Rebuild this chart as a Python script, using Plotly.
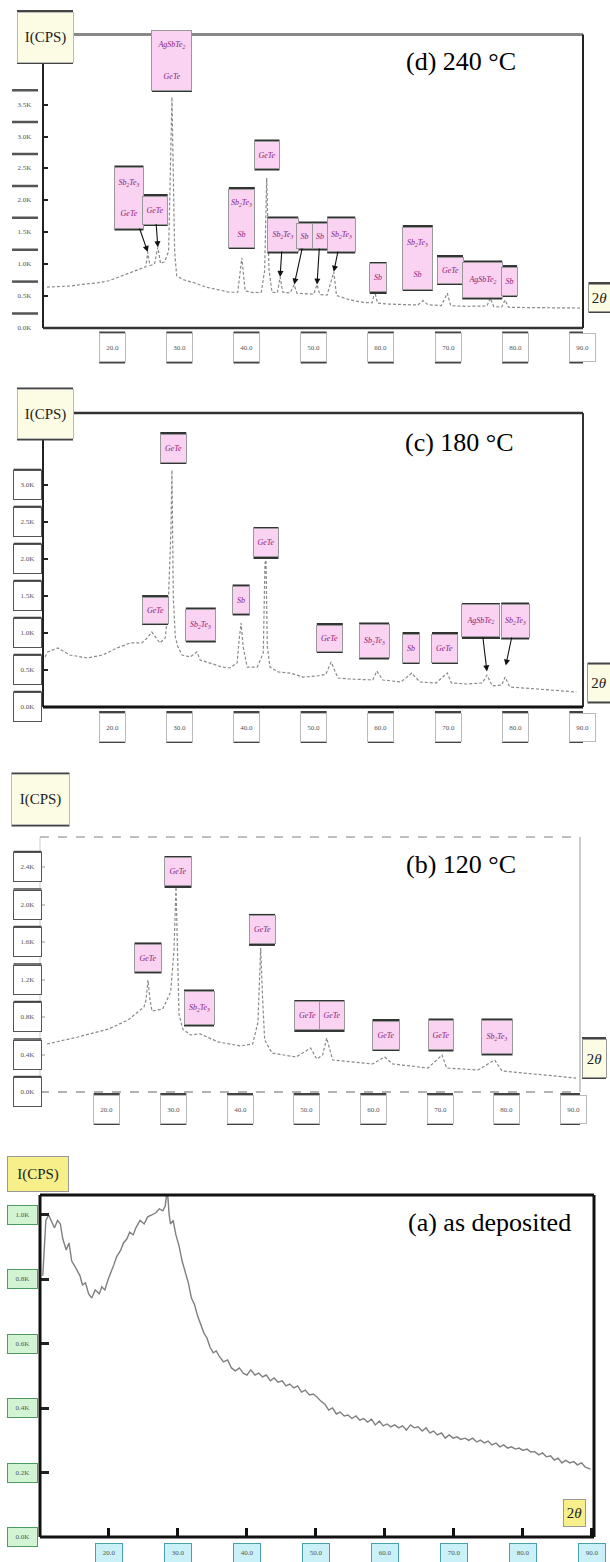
import plotly.graph_objects as go

W, H = 610, 1562

# ---------------- diffraction patterns: 2θ (deg) vs intensity (counts/s) ----------------
# (d) annealed at 240 °C
two_theta_d = [10.3, 12.0, 14.0, 16.0, 17.7, 19.5, 21.0, 22.4, 24.0, 25.0,
               25.3, 25.6, 26.3, 26.8, 27.2, 27.8, 28.4, 28.9, 29.3, 29.6,
               30.5, 32.3, 34.0, 35.8, 37.5, 38.7, 39.3, 39.8, 41.0, 42.2,
               42.7, 43.0, 43.35, 43.8, 44.6, 45.0, 45.4, 46.5, 47.1, 47.5,
               48.4, 50.0, 50.5, 50.9, 52.0, 53.0, 53.4, 55.4, 57.5, 58.7,
               59.1, 59.5, 61.2, 64.0, 65.5, 66.3, 67.0, 69.0, 69.9, 70.4,
               72.5, 75.8, 76.3, 76.8, 78.0, 78.5, 79.0, 82.0, 85.0, 89.7]
intensity_d = [640, 645, 660, 690, 705, 740, 800, 862, 920, 960,
               1190, 980, 1000, 1265, 1010, 1040, 1200, 3620, 1200, 820,
               760, 705, 640, 595, 560, 560, 1100, 580, 555, 560,
               900, 2350, 910, 560, 555, 800, 560, 550, 680, 545,
               540, 530, 680, 525, 515, 880, 510, 440, 400, 395,
               570, 390, 375, 360, 360, 430, 365, 350, 545, 350,
               340, 345, 470, 335, 330, 440, 325, 320, 315, 313]

# (c) annealed at 180 °C
two_theta_c = [10.0, 10.4, 11.9, 13.7, 16.3, 18.6, 20.7, 22.7, 24.4, 25.2,
               25.9, 26.4, 27.1, 27.9, 28.3, 28.75, 28.9, 29.1, 29.4, 29.8,
               30.4, 31.6, 32.6, 33.1, 34.6, 36.4, 37.5, 38.6, 38.9, 39.2,
               39.5, 40.1, 41.6, 42.5, 42.75, 42.9, 43.1, 43.5, 44.7, 46.5,
               48.4, 50.5, 51.8, 52.6, 53.6, 55.4, 58.8, 59.4, 60.3, 63.0,
               64.6, 65.8, 68.2, 69.9, 70.5, 72.8, 75.1, 75.8, 76.6, 78.0,
               78.5, 79.2, 83.3, 86.7, 89.1]
intensity_c = [676, 743, 797, 703, 662, 703, 797, 865, 865, 932,
               1013, 946, 865, 932, 1270, 2391, 3202, 1486, 946, 811,
               703, 676, 743, 635, 594, 540, 527, 594, 905, 1135,
               811, 540, 540, 730, 1945, 1986, 811, 540, 473, 459,
               405, 419, 440, 608, 392, 378, 365, 486, 365, 338,
               459, 338, 324, 459, 324, 311, 324, 432, 284, 297,
               405, 270, 243, 216, 203]

# (b) annealed at 120 °C
two_theta_b = [11.05, 15.7, 20.3, 23.2, 25.6, 25.9, 26.2, 26.5, 26.8, 28.4,
               29.6, 30.1, 30.4, 30.7, 30.85, 31.4, 32.6, 34.0, 36.7, 40.1,
               41.9, 42.7, 43.1, 43.4, 43.7, 44.8, 48.4, 50.6, 51.5, 52.4,
               53.0, 53.9, 56.5, 59.9, 61.7, 62.9, 68.2, 70.3, 71.0, 75.7,
               78.2, 79.3, 85.7, 90.4]
intensity_b = [512, 587, 672, 768, 907, 982, 1195, 982, 864, 886,
               1067, 1515, 2187, 1408, 832, 672, 608, 620, 534, 491,
               512, 747, 1536, 982, 555, 416, 373, 469, 352, 395,
               576, 341, 320, 299, 373, 299, 256, 395, 256, 235,
               341, 224, 181, 149]

# (a) as deposited (amorphous)
two_theta_a = [10.4, 10.85, 11.25, 11.65, 12.1, 12.55, 12.95, 13.3, 13.8, 14.2,
               14.6, 15.2, 15.8, 16.15, 16.6, 17.05, 17.5, 18.0, 18.6, 18.95,
               19.4, 19.9, 20.35, 20.7, 21.1, 21.7, 22.1, 22.6, 23.0, 23.5,
               23.9, 24.5, 25.1, 25.6, 26.2, 26.75, 27.3, 27.8, 28.15, 28.45,
               28.7, 28.9, 29.3, 29.7, 30.15, 30.6, 31.05, 31.5, 31.95, 32.4,
               32.85, 33.3, 33.75, 34.2, 34.65, 35.1, 35.55, 36.05, 36.6, 37.2,
               37.75, 38.3, 38.9, 39.45, 40.0, 40.55, 41.15, 41.7, 42.25, 42.8,
               43.4, 43.95, 44.5, 45.1, 45.65, 46.2, 46.8, 47.35, 47.9, 48.45,
               49.05, 49.6, 50.15, 50.7, 51.3, 51.85, 52.4, 52.95, 53.5, 54.1,
               54.65, 55.2, 55.8, 56.35, 56.9, 57.5, 58.05, 58.6, 59.2, 59.75,
               60.3, 60.85, 61.4, 62.0, 62.55, 63.1, 63.7, 64.25, 64.8, 65.4,
               65.95, 66.5, 67.05, 67.6, 68.2, 68.75, 69.3, 69.9, 70.45, 71.0,
               71.6, 72.15, 72.7, 73.3, 73.85, 74.4, 74.95, 75.5, 76.1, 76.65,
               77.2, 77.8, 78.35, 78.9, 79.45, 80.0, 80.6, 81.15, 81.7, 82.3,
               82.85, 83.4, 84.0, 84.55, 85.1, 85.65, 86.2, 86.8, 87.35, 87.9,
               88.5, 89.05, 89.8]
intensity_a = [811, 983, 1000, 983, 960, 983, 972, 926, 891, 913,
               857, 835, 811, 783, 789, 755, 742, 767, 755, 777,
               767, 801, 823, 845, 870, 891, 913, 926, 947, 938,
               960, 983, 972, 994, 1000, 1006, 1019, 1013, 1028, 1081,
               1006, 972, 983, 938, 904, 857, 823, 789, 742, 721,
               686, 662, 634, 618, 589, 572, 578, 559, 544, 550,
               525, 516, 525, 509, 503, 519, 503, 509, 497, 503,
               485, 494, 481, 485, 469, 475, 463, 469, 450, 456,
               441, 444, 435, 422, 412, 394, 401, 382, 388, 376,
               379, 368, 376, 363, 368, 357, 366, 348, 360, 345,
               351, 342, 348, 339, 345, 332, 348, 339, 342, 329,
               339, 323, 329, 317, 323, 307, 317, 307, 311, 303,
               307, 300, 307, 295, 301, 292, 298, 286, 292, 280,
               286, 276, 280, 273, 276, 269, 273, 264, 265, 255,
               261, 249, 252, 239, 245, 230, 238, 230, 234, 224,
               230, 217, 211]

# ---------------- ticks ----------------
x_tick_vals = [20, 30, 40, 50, 60, 70, 80, 90]
x_tick_text = ["20.0", "30.0", "40.0", "50.0", "60.0", "70.0", "80.0", "90.0"]
y_tick_vals_d = [0, 500, 1000, 1500, 2000, 2500, 3000, 3500]
y_tick_text_d = ["0.0K", "0.5K", "1.0K", "1.5K", "2.0K", "2.5K", "3.0K", "3.5K"]
y_tick_vals_c = [0, 500, 1000, 1500, 2000, 2500, 3000]
y_tick_text_c = ["0.0K", "0.5K", "1.0K", "1.5K", "2.0K", "2.5K", "3.0K"]
y_tick_vals_b = [0, 400, 800, 1200, 1600, 2000, 2400]
y_tick_text_b = ["0.0K", "0.4K", "0.8K", "1.2K", "1.6K", "2.0K", "2.4K"]
y_tick_vals_a = [0, 200, 400, 600, 800, 1000]
y_tick_text_a = ["0.0K", "0.2K", "0.4K", "0.6K", "0.8K", "1.0K"]

# ---------------- phase identification labels ----------------
SB2TE3 = "Sb<sub>2</sub>Te<sub>3</sub>"
AGSBTE2 = "AgSbTe<sub>2</sub>"
GAP = "<br><br><br>"
phases_d = [SB2TE3 + GAP + "GeTe", "GeTe", AGSBTE2 + GAP + "GeTe", SB2TE3 + GAP + "Sb",
            "GeTe", SB2TE3, "Sb", "Sb", SB2TE3, "Sb", SB2TE3 + GAP + "Sb", "GeTe", AGSBTE2, "Sb"]
phases_c = ["GeTe", "GeTe", SB2TE3, "Sb", "GeTe", "GeTe", SB2TE3, "Sb", "GeTe", AGSBTE2, SB2TE3]
phases_b = ["GeTe", "GeTe", SB2TE3, "GeTe", "GeTe", "GeTe", "GeTe", "GeTe", SB2TE3]
titles = {"d": "(d) 240 °C", "c": "(c) 180 °C", "b": "(b) 120 °C", "a": "(a) as deposited"}

# label placement: box centre (2θ, counts), box size (px), arrow tip (2θ, counts) or None
place_d = [(22.5, 2037, 28, 60, (25.3, 1190)), (26.4, 1849, 24, 27, (26.8, 1265)),
           (28.9, 4200, 39, 59, None), (39.3, 1724, 25, 57, None), (43.05, 2711, 24, 26, None),
           (45.4, 1457, 30, 32, (45.0, 800)), (48.7, 1442, 15, 24, (47.1, 680)),
           (50.95, 1442, 14, 24, (50.5, 680)), (54.1, 1457, 27, 32, (53.0, 880)),
           (59.6, 784, 16, 27, None), (65.5, 1097, 29, 61, None), (70.3, 909, 25, 25, None),
           (75.1, 752, 39, 34, None), (79.1, 736, 15, 27, None)]
place_c = [(26.4, 1310, 25, 25, None), (29.1, 3499, 25, 27, None), (33.2, 1108, 29, 30, None),
           (39.2, 1446, 16, 26, None), (42.9, 2216, 24, 27, None), (52.4, 932, 25, 25, None),
           (59.0, 892, 29, 32, None), (64.5, 797, 16, 27, None), (69.55, 797, 25, 27, None),
           (74.9, 1162, 37, 31, (75.8, 480)), (80.0, 1162, 27, 32, (78.6, 560))]
place_b = [(26.2, 1430, 26, 26, None), (30.7, 2347, 26, 27, None), (33.85, 896, 29, 32, None),
           (43.3, 1729, 25, 27, None), (50.1, 811, 25, 27, None), (53.8, 811, 24, 27, None),
           (61.9, 608, 26, 27, None), (70.15, 608, 24, 28, None), (78.55, 587, 30, 32, None)]

# ---------------- panel geometry (pixels on the page) ----------------
panels = [
    dict(key="d", n="", px=(43, 583), py=(34.5, 328), xr=(9.7, 90.1), yr=(0, 4600),
         x=two_theta_d, y=intensity_d, yt=(y_tick_vals_d, y_tick_text_d), labels=(phases_d, place_d),
         cps=(45, 37, 55, 49), theta=(599.5, 297.5, 21, 26), title=(461, 61),
         xtag_y=347.5, ytag_x=25,
         edges=dict(left=("#222", 2, "solid"), top=("#888", 3, "solid"),
                    right=("#222", 2, "solid"), bottom=("#333", 2.5, "solid"))),
    dict(key="c", n="2", px=(43, 583), py=(413, 707), xr=(9.7, 90.1), yr=(0, 3972),
         x=two_theta_c, y=intensity_c, yt=(y_tick_vals_c, y_tick_text_c), labels=(phases_c, place_c),
         cps=(45, 414, 55, 48), theta=(599, 683, 22, 36), title=(460, 443),
         xtag_y=727, ytag_x=27.5,
         edges=dict(left=("#222", 2, "solid"), top=("#333", 2.5, "solid"),
                    right=("#333", 2, "solid"), bottom=("#111", 3, "solid"))),
    dict(key="b", n="3", px=(40, 580), py=(837, 1092), xr=(10, 91), yr=(0, 2720),
         x=two_theta_b, y=intensity_b, yt=(y_tick_vals_b, y_tick_text_b), labels=(phases_b, place_b),
         cps=(40.5, 799.5, 57, 49), theta=(594, 1058, 23, 37), title=(461, 864),
         xtag_y=1109, ytag_x=27.5,
         edges=dict(left=("#cccccc", 1, "solid"), top=("#aaaaaa", 1.5, "dash"),
                    right=("#bbbbbb", 1.5, "solid"), bottom=("#999999", 1.5, "dash"))),
    dict(key="a", n="4", px=(40, 594), py=(1195, 1537), xr=(10, 90.3), yr=(0, 1062),
         x=two_theta_a, y=intensity_a, yt=(y_tick_vals_a, y_tick_text_a), labels=None,
         cps=(38, 1174, 60, 34), theta=(574.5, 1513, 21, 26), title=(489, 1222),
         xtag_y=1553, ytag_x=22.5,
         edges=dict(left=("#111", 3, "solid"), top=("#111", 3, "solid"),
                    right=("#111", 3, "solid"), bottom=("#111", 3, "solid"))),
]

SERIF = "Liberation Serif"
shapes, annotations = [], []


def px_x(p):
    return p / W


def px_y(p):
    return 1 - p / H


def tag(text, x, y, w, h, xref, yref, fill, border, font, bars=("top", "bottom"),
        bar_color="#333", bar_width=2, tip=None):
    """Boxed label with heavy top/bottom rules, optionally with an arrow."""
    ann = dict(text=text, width=w, height=h, bgcolor=fill, bordercolor=border,
               borderwidth=1, borderpad=0, font=font, align="center", valign="middle",
               xref=xref, yref=yref)
    if tip is None:
        ann.update(x=x, y=y, showarrow=False, xanchor="center", yanchor="middle")
    else:
        ann.update(x=tip[0], y=tip[1], ax=x, ay=y, axref=xref, ayref=yref, showarrow=True,
                   arrowhead=2, arrowsize=1.1, arrowwidth=1.1, arrowcolor="#111", standoff=0)
    annotations.append(ann)
    for side in bars:
        off = h / 2 + 1.5 if side == "top" else -(h / 2 + 1.5)
        shapes.append(dict(type="line", xref=xref, yref=yref,
                           xsizemode="pixel", ysizemode="pixel", xanchor=x, yanchor=y,
                           x0=-w / 2 - 0.5, x1=w / 2 + 0.5, y0=off, y1=off,
                           line=dict(color=bar_color, width=bar_width), layer="above"))


fig = go.Figure()
layout_axes = {}

tick_font = dict(family=SERIF, size=7, color="#555")
peak_font = dict(family=SERIF, size=8, color="#8b1c7a", style="italic")

for p in panels:
    n = p["n"]
    xa, ya = "x" + n, "y" + n
    is_a = p["key"] == "a"

    fig.add_trace(go.Scatter(
        x=p["x"], y=p["y"], mode="lines", xaxis=xa, yaxis=ya, showlegend=False,
        line=dict(color="#7f7f7f", width=1.4) if is_a
        else dict(color="#8a8a8a", width=1.2, dash="3px,2px"),
        hoverinfo="skip"))

    layout_axes["xaxis" + n] = dict(
        domain=[px_x(p["px"][0]), px_x(p["px"][1])], range=list(p["xr"]), anchor=ya,
        showgrid=False, zeroline=False, showline=False, showticklabels=False,
        tickvals=x_tick_vals, ticks="inside" if is_a else "",
        ticklen=9, tickwidth=3, tickcolor="#111")
    ytick_color = "#cccccc" if p["key"] == "b" else "#222"
    layout_axes["yaxis" + n] = dict(
        domain=[px_y(p["py"][1]), px_y(p["py"][0])], range=list(p["yr"]), anchor=xa,
        showgrid=False, zeroline=False, showline=False, showticklabels=False,
        tickvals=p["yt"][0], ticks="inside",
        ticklen=9 if is_a else 5, tickwidth=3 if is_a else 2, tickcolor=ytick_color)

    # plot frame
    dom_x, dom_y = xa + " domain", ya + " domain"
    ends = dict(left=(0, 0, 0, 1), right=(1, 0, 1, 1), top=(0, 1, 1, 1), bottom=(0, 0, 1, 0))
    for side, (color, width, dash) in p["edges"].items():
        x0, y0, x1, y1 = ends[side]
        shapes.append(dict(type="line", xref=dom_x, yref=dom_y, x0=x0, y0=y0, x1=x1, y1=y1,
                           line=dict(color=color, width=width, dash=dash), layer="above"))

    # x tick labels
    for v, t in zip(x_tick_vals, x_tick_text):
        if is_a:
            tag(t, v, px_y(p["xtag_y"]), 26, 18, xa, "paper", "#c9f1f7", "#4a9fae",
                tick_font, bars=())
        else:
            tag(t, v, px_y(p["xtag_y"]), 25, 27, xa, "paper", "#ffffff", "#bbbbbb",
                tick_font, bar_color="#444", bar_width=2)

    # y tick labels
    for v, t in zip(*p["yt"]):
        if is_a:
            tag(t, px_x(p["ytag_x"]), v, 29, 18, "paper", ya, "#d3f4d3", "#4f9a63",
                tick_font, bars=())
        elif p["key"] == "d":
            tag(t, px_x(p["ytag_x"]), v, 25, 26, "paper", ya, "rgba(0,0,0,0)",
                "rgba(0,0,0,0)", tick_font, bars=("top",), bar_color="#555", bar_width=2.5)
        else:
            tag(t, px_x(p["ytag_x"]), v, 27, 28, "paper", ya, "#ffffff", "#555555",
                tick_font, bars=("top",), bar_color="#444", bar_width=1.5)

    # phase labels
    if p["labels"]:
        for text, (cx, cy, w, h, tip) in zip(*p["labels"]):
            tag("<i>" + text + "</i>", cx, cy, w, h, xa, ya, "#f9d3f1", "#999999", peak_font,
                bar_color="#333", bar_width=2, tip=tip)

    # axis captions
    cx, cy, w, h = p["cps"]
    cap_fill = "#f7f08a" if is_a else "#fcfbe3"
    tag("I(CPS)", px_x(cx), px_y(cy), w, h, "paper", "paper", cap_fill,
        "#999999" if is_a else "#bbbbbb", dict(family=SERIF, size=15, color="#222"),
        bars=() if is_a else ("top", "bottom"), bar_color="#444", bar_width=2)
    tx, ty, w, h = p["theta"]
    tag("2<i>θ</i>", px_x(tx), px_y(ty), w, h, "paper", "paper", cap_fill, "#999999",
        dict(family=SERIF, size=15, color="#222"),
        bars=() if is_a else ("top", "bottom"), bar_color="#444", bar_width=2)

    # panel title
    ttx, tty = p["title"]
    annotations.append(dict(text=titles[p["key"]], x=px_x(ttx), y=px_y(tty), xref="paper",
                            yref="paper", showarrow=False, xanchor="center", yanchor="middle",
                            font=dict(family=SERIF, size=26, color="#000")))

fig.update_layout(
    width=W, height=H, margin=dict(l=0, r=0, t=0, b=0),
    paper_bgcolor="#ffffff", plot_bgcolor="#ffffff", showlegend=False,
    shapes=shapes, annotations=annotations, **layout_axes)

fig.write_html("out.html")
